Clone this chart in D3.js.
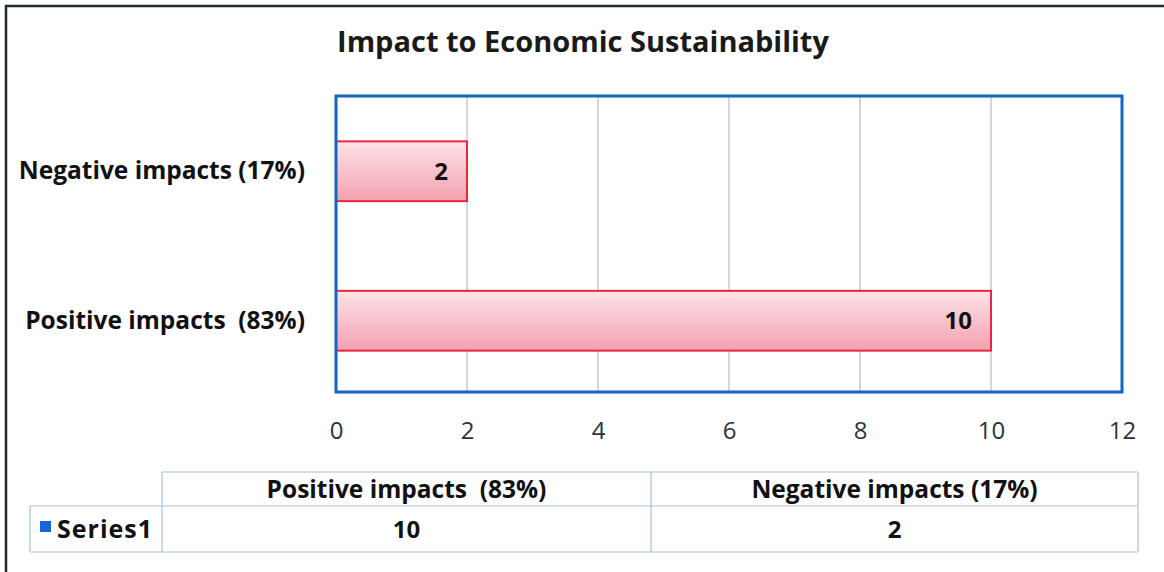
<!DOCTYPE html>
<html>
<head>
<meta charset="utf-8">
<script src="https://cdn.jsdelivr.net/npm/d3@7"></script>
<style>
  html, body { margin: 0; padding: 0; background: #fff; }
  svg { display: block; }
  text { font-family: "Open Sans", Lato, sans-serif; }
</style>
</head>
<body>
<svg id="chart" width="1164" height="572"></svg>
<script>
// Chart content
const chartTitle = "Impact to Economic Sustainability";
const categories = ["Positive impacts  (83%)", "Negative impacts (17%)"];
const values = [10, 2];
const seriesName = "Series1";
const xTicks = [0, 2, 4, 6, 8, 10, 12];

const svg = d3.select("#chart");
const W = 1164, H = 572;
const FONT = "'Open Sans', Lato, sans-serif";

// Outer chart frame (runs off the right/bottom edge)
svg.append("rect")
  .attr("x", 6).attr("y", 6).attr("width", W + 20).attr("height", H + 20)
  .attr("fill", "#fff").attr("stroke", "#1c2a30").attr("stroke-width", 2.5);

// Plot area
const plot = { left: 336, top: 96, right: 1122, bottom: 392 };

const x = d3.scaleLinear().domain([0, 12]).range([plot.left, plot.right]);
// categories listed bottom-to-top, so reverse order in the band scale
const y = d3.scaleBand().domain(categories.slice().reverse())
  .range([plot.top + 2, plot.bottom + 2]).paddingInner(0.6).paddingOuter(0.29);

// Bar gradient
const defs = svg.append("defs");
const grad = defs.append("linearGradient").attr("id", "barFill")
  .attr("x1", 0).attr("y1", 0).attr("x2", 0).attr("y2", 1);
grad.append("stop").attr("offset", "0%").attr("stop-color", "#fde3e7");
grad.append("stop").attr("offset", "100%").attr("stop-color", "#f3a0b0");

// Vertical gridlines
svg.append("g")
  .selectAll("line")
  .data(xTicks.filter(t => t > 0 && t < 12))
  .join("line")
  .attr("x1", d => x(d)).attr("x2", d => x(d))
  .attr("y1", plot.top).attr("y2", plot.bottom)
  .attr("stroke", "#a9a9c4").attr("stroke-width", 1);

// Bars
const data = categories.map((c, i) => ({ cat: c, value: values[i] }));
svg.append("g")
  .selectAll("rect")
  .data(data)
  .join("rect")
  .attr("x", x(0))
  .attr("y", d => y(d.cat))
  .attr("width", d => x(d.value) - x(0))
  .attr("height", y.bandwidth())
  .attr("fill", "url(#barFill)")
  .attr("stroke", "#e8283f").attr("stroke-width", 2);

// Value labels inside bar ends
svg.append("g")
  .selectAll("text")
  .data(data)
  .join("text")
  .attr("x", d => x(d.value) - 19)
  .attr("y", d => y(d.cat) + y.bandwidth() / 2)
  .attr("dy", "0.36em")
  .attr("text-anchor", "end")
  .attr("font-size", 24).attr("font-weight", "bold").attr("fill", "#111")
  .text(d => d.value);

// Plot border
svg.append("rect")
  .attr("x", plot.left).attr("y", plot.top)
  .attr("width", plot.right - plot.left).attr("height", plot.bottom - plot.top)
  .attr("fill", "none").attr("stroke", "#1565c0").attr("stroke-width", 3);

// X axis labels
const xAxis = d3.axisBottom(x).tickValues(xTicks).tickSize(0).tickPadding(0);
const gx = svg.append("g").attr("transform", `translate(0,${plot.bottom + 30})`).call(xAxis);
gx.select(".domain").remove();
gx.selectAll("text")
  .attr("font-size", 24).attr("fill", "#2b3338").attr("font-family", FONT);

// Category axis labels
const yAxis = d3.axisLeft(y).tickSize(0).tickPadding(0);
const gy = svg.append("g").attr("transform", `translate(${plot.left - 31},0)`).call(yAxis);
gy.select(".domain").remove();
gy.selectAll("text")
  .attr("font-size", 24.5).attr("font-weight", "bold").attr("fill", "#111")
  .attr("font-family", FONT)
  .style("white-space", "pre");

// Title
svg.append("text")
  .attr("x", 583).attr("y", 52)
  .attr("text-anchor", "middle")
  .attr("font-size", 29).attr("font-weight", "bold").attr("fill", "#1a1a1a")
  .text(chartTitle);

// Data table
const tbl = { left: 30, c1: 162, c2: 651, right: 1138, top: 472, mid: 506, bottom: 552 };
const cols = [tbl.c1, tbl.c2, tbl.right];
const tg = svg.append("g").attr("stroke", "#aac0d8").attr("stroke-width", 1.2).attr("fill", "none");
// header row
tg.append("line").attr("x1", tbl.c1).attr("x2", tbl.right).attr("y1", tbl.top).attr("y2", tbl.top);
tg.append("line").attr("x1", tbl.left).attr("x2", tbl.right).attr("y1", tbl.mid).attr("y2", tbl.mid);
tg.append("line").attr("x1", tbl.left).attr("x2", tbl.right).attr("y1", tbl.bottom).attr("y2", tbl.bottom);
tg.append("line").attr("x1", tbl.left).attr("x2", tbl.left).attr("y1", tbl.mid).attr("y2", tbl.bottom);
cols.forEach(cx => tg.append("line").attr("x1", cx).attr("x2", cx).attr("y1", tbl.top).attr("y2", tbl.bottom));

// Header cells follow the plotted category order (bottom bar first)
const colCenters = [(tbl.c1 + tbl.c2) / 2, (tbl.c2 + tbl.right) / 2];
svg.append("g").selectAll("text")
  .data(data).join("text")
  .attr("x", (d, i) => colCenters[i])
  .attr("y", (tbl.top + tbl.mid) / 2).attr("dy", "0.36em")
  .attr("text-anchor", "middle").attr("font-size", 24.5).attr("font-weight", "bold").attr("fill", "#111")
  .style("white-space", "pre")
  .text(d => d.cat);
svg.append("g").selectAll("text")
  .data(data).join("text")
  .attr("x", (d, i) => colCenters[i])
  .attr("y", (tbl.mid + tbl.bottom) / 2).attr("dy", "0.36em")
  .attr("text-anchor", "middle").attr("font-size", 24).attr("font-weight", "bold").attr("fill", "#111")
  .text(d => d.value);

// Series legend key
svg.append("rect").attr("x", 40).attr("y", 521).attr("width", 11).attr("height", 11).attr("fill", "#1565d8");
svg.append("text").attr("x", 57).attr("y", (tbl.mid + tbl.bottom) / 2).attr("dy", "0.36em")
  .attr("font-size", 25).attr("font-weight", "bold").attr("fill", "#111")
  .attr("letter-spacing", 1)
  .text(seriesName);
</script>
</body>
</html>
